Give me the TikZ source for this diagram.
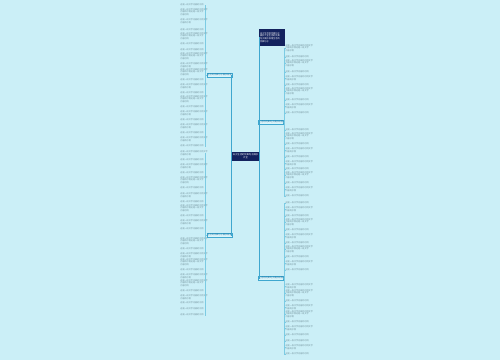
\documentclass[tikz,border=0pt]{standalone}
\usepackage{fontspec}
\newfontfamily\cjk{Noto Sans CJK SC}
\definecolor{bgc}{HTML}{CBEFF7}
\definecolor{spinec}{HTML}{3FA7CF}
\definecolor{thinc}{HTML}{7CCBE3}
\definecolor{navy}{HTML}{13225E}
\definecolor{branchc}{HTML}{1F6F9E}
\definecolor{leafc}{HTML}{6F8E98}
\newcommand\leaftxt[1]{\ifcase#1\or 这是一段文字内容的示例\or 这是一段文字内容的示例文字\\内容的示例\or 这是一段文字内容的示例文字\\内容的示例这是一段文字\\内容示例\fi}
\tikzset{
  leafL/.style={font=\cjk\fontsize{2.1}{2.7}\selectfont, text=leafc, text width=24pt, align=left, inner sep=0.4pt, anchor=east},
  leafR/.style={font=\cjk\fontsize{2.1}{2.7}\selectfont, text=leafc, text width=29pt, align=left, inner sep=0.4pt, anchor=west},
  branch/.style={font=\cjk\fontsize{2.2}{2.8}\selectfont, text=branchc, fill=bgc!70!white, draw=spinec, line width=0.5pt, minimum width=24pt, minimum height=3.5pt, inner sep=0.3pt},
  conn/.style={draw=thinc, line width=0.5pt},
  mainconn/.style={draw=spinec, line width=0.7pt}
}
\begin{document}
\begin{tikzpicture}[x=1pt,y=-1pt]
\fill[bgc] (0,0) rectangle (500,360);
\useasboundingbox (0,0) rectangle (500,360);
% center
\node[fill=navy, text=white, font=\cjk\fontsize{2.3}{2.9}\selectfont, minimum width=25pt, minimum height=9pt, inner sep=0.5pt, align=center] (C) at (245.5,156) {关于生活的优美句子摘抄\\大全};
% branches
\node[branch] (LT) at (219.5,75) {生活的优美句子摘抄段落};
\node[branch] (LB) at (219.5,235) {生活的优美句子摘抄段落};
\node[branch] (R1) at (271,122) {生活的优美句子摘抄段落};
\node[branch] (R2) at (271,278) {生活的优美句子摘抄段落};
\node[fill=navy, text=white, font=\cjk\fontsize{2.2}{2.8}\selectfont, text width=24pt, minimum height=17pt, inner sep=1pt, align=left] (RT) at (272,37.5) {关于生活的优美句子\\摘抄大全生活的优美\\句子摘抄段落生活的\\优美句子};
% main connectors
\draw[mainconn] (C.west) -- ++(-1,0) |- (LT.east);
\draw[mainconn] (C.west) -- ++(-1,0) |- (LB.east);
\draw[mainconn] (C.east) |- (RT.west);
\draw[mainconn] (C.east) |- (R1.west);
\draw[mainconn] (C.east) |- (R2.west);
% left top leaves
\foreach \y/\n [count=\i] in {5/1,12/3,21/2,30/1,36/3,44/1,50/1,56/3,65/2,72/3,80/1,86/2,93/1,99/3,107/1,113/2,120/1,126/2,133/1,139/2,146/1}{
  \node[leafL] (lt\i) at (205,\y) {\leaftxt{\n}};
  \draw[conn] (LT.west) -- ++(-1.5,0) |- (lt\i.east);
}
% left bottom leaves
\foreach \y/\n [count=\i] in {153/2,160/1,166/2,173/1,180/3,188/1,195/2,202/1,208/3,216/1,222/2,229/1,241/3,249/1,255/2,262/3,270/1,276/2,283/3,291/1,297/2,303/1,309/1,315/1}{
  \node[leafL] (lb\i) at (205,\y) {\leaftxt{\n}};
  \draw[conn] (LB.west) -- ++(-1.5,0) |- (lb\i.east);
}
% right 1 leaves
\foreach \y/\n [count=\i] in {48/3,57/1,63/3,72/1,78/2,85/1,91/3,100/1,106/2,113/1,130/1,136/3,144/1,150/2,157/1,163/2,169/1,175/3,183/1,189/2,196/1}{
  \node[leafR] (ra\i) at (285,\y) {\leaftxt{\n}};
  \draw[conn] (R1.east) -- ++(1,0) |- (ra\i.west);
}
% right 2 leaves
\foreach \y/\n [count=\i] in {203/1,209/2,216/1,222/3,230/1,236/2,243/1,249/3,257/1,263/2,270/1,286/2,293/3,301/1,307/2,314/3,322/1,328/2,335/1,341/1,347/2,354/1}{
  \node[leafR] (rb\i) at (285,\y) {\leaftxt{\n}};
  \draw[conn] (R2.east) -- ++(1,0) |- (rb\i.west);
}
\end{tikzpicture}
\end{document}
